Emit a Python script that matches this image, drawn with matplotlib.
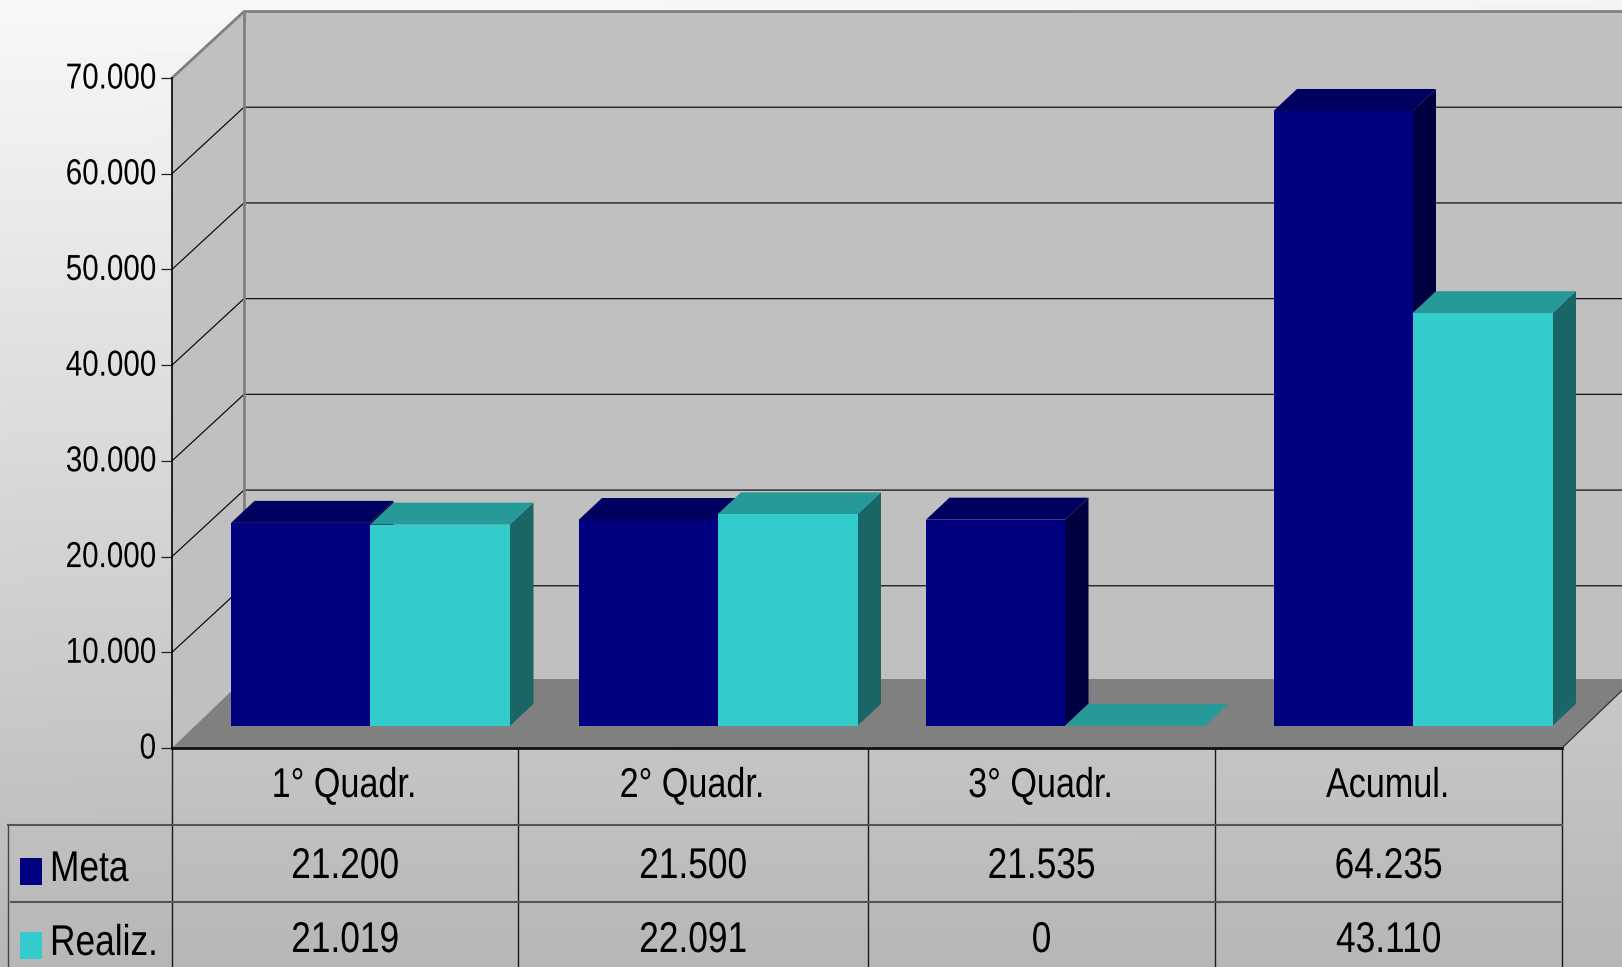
import numpy as np
from matplotlib import pyplot as plt
from matplotlib.backends.backend_agg import RendererAgg
from matplotlib.path import Path
from matplotlib.textpath import text_to_path
from matplotlib.transforms import Affine2D, ScaledTranslation

plt.rcParams['font.family'] = ['Liberation Sans', 'DejaVu Sans']

# no narrow Arial installed, so squeeze the text sideways when it gets drawn
NARROW = 0.82
base_metrics = RendererAgg.get_text_width_height_descent


def narrow_metrics(self, s, prop, ismath):
    w, h, d = base_metrics(self, s, prop, ismath)
    return w * NARROW, h, d


def narrow_text(self, gc, x, y, s, prop, angle, ismath=False, mtext=None):
    verts, codes = text_to_path.get_text_path(prop, s, ismath=ismath)
    size = self.points_to_pixels(prop.get_size_in_points()) / text_to_path.FONT_SCALE
    trans = Affine2D().scale(size * NARROW, size).rotate_deg(angle).translate(x, self.height - y)
    gc.set_linewidth(0.0)
    self.draw_path(gc, Path(verts, codes), trans, rgbFace=gc.get_rgb())


RendererAgg.get_text_width_height_descent = narrow_metrics
RendererAgg.draw_text = narrow_text

categories = ['1° Quadr.', '2° Quadr.', '3° Quadr.', 'Acumul.']
meta = [21200, 21500, 21535, 64235]
realiz = [21019, 22091, 0, 43110]
y_ticks = [0, 10000, 20000, 30000, 40000, 50000, 60000, 70000]
series_names = ['Meta', 'Realiz.']

W, H = 1622, 967
NAVY, NAVY_TOP, NAVY_SIDE = '#000080', '#000060', '#000040'
TEAL, TEAL_TOP, TEAL_SIDE = '#33cccc', '#269999', '#1a6666'

fig = plt.figure(figsize=(W / 100, H / 100), dpi=100)

# background gradient
bg = fig.add_axes([0, 0, 1, 1], zorder=0)
yy, xx = np.mgrid[0:1:200j, 0:1:200j]
bg.imshow(248 - 66 * yy - 4 * xx * (1 - yy), cmap='gray', vmin=0, vmax=255, aspect='auto')
bg.axis('off')

# pixel coordinates, origin top left
pix = Affine2D().scale(1 / W, -1 / H).translate(0, 1) + fig.transFigure


def fmt(v):
    return f'{v:,}'.replace(',', '.')


# main axes, 4 categories wide, 0-70000 tall
x0, x1, y0, y1 = 172, 1562, 748, 78
ax = fig.add_axes([x0 / W, 1 - y0 / H, (x1 - x0) / W, (y0 - y1) / H], zorder=1)
ax.set_xlim(0, 4)
ax.set_ylim(0, 70000)
ax.patch.set_visible(False)
for s in ['top', 'right', 'bottom']:
    ax.spines[s].set_visible(False)
ax.spines['left'].set_linewidth(1.2)
ax.set_xticks([])
ax.set_yticks(y_ticks, [fmt(v) for v in y_ticks])
ax.tick_params(axis='y', length=8, width=0.9, pad=3.5, labelsize=26, color='#222222')
for t in ax.get_yticklabels():
    t.set_transform(t.get_transform() + ScaledTranslation(0, 3 / 100, fig.dpi_scale_trans))

px = 4 / (x1 - x0)
py = 70000 / (y0 - y1)
wall_dx, wall_dy = 72 * px, 66.5 * py
floor_dy = 69 * py
end = 4 + 80 * px

# walls and floor
ax.fill([0, wall_dx, wall_dx, 0], [0, wall_dy, 70000 + wall_dy, 70000], color='#c0c0c0', lw=0, clip_on=False, zorder=0.2)
ax.fill([wall_dx, end, end, wall_dx], [wall_dy, wall_dy, 70000 + wall_dy, 70000 + wall_dy], color='#c0c0c0', lw=0, clip_on=False, zorder=0.2)

for v in y_ticks[1:-1]:
    ax.plot([0, wall_dx, end], [v, v + wall_dy, v + wall_dy], color='#111111', lw=0.9, clip_on=False, zorder=0.3)

ax.plot([0, wall_dx, end], [70000, 70000 + wall_dy, 70000 + wall_dy], color='#808080', lw=2, clip_on=False, zorder=0.3)
ax.plot([wall_dx, wall_dx], [wall_dy, 70000 + wall_dy], color='#808080', lw=2, clip_on=False, zorder=0.3)
ax.fill([0, 4, 4 + wall_dx, wall_dx], [0, 0, floor_dy, floor_dy], color='#808080', lw=0, clip_on=False, zorder=0.4)
ax.plot([4, 4 + wall_dx], [0, floor_dy], color='#333333', lw=0.9, clip_on=False, zorder=0.5)

# bars
offs_x, offs_y = 59 * px, 22.2 * py
meta_w = 139 * px
real_w = 140 * px
dep_x, dep_y = 23.5 * px, 22 * py


def bar3d(left, val, width, front, top, side):
    base = offs_y
    t = base + val
    r = left + width
    ax.fill([left, r, r + dep_x, left + dep_x], [t, t, t + dep_y, t + dep_y], color=top, lw=0, clip_on=False)
    if val > 0:
        ax.fill([r, r + dep_x, r + dep_x, r], [base, base + dep_y, t + dep_y, t], color=side, lw=0, clip_on=False)
        ax.bar(left, val, width, bottom=base, align='edge', color=front, lw=0, clip_on=False)


for i in range(len(categories)):
    bar3d(i + offs_x, meta[i], meta_w, NAVY, NAVY_TOP, NAVY_SIDE)
    bar3d(i + offs_x + meta_w, realiz[i], real_w, TEAL, TEAL_TOP, TEAL_SIDE)

# data table
col_x = [172, 518, 868, 1215, 1562]
for x in col_x:
    ax.plot([x, x], [748, H], transform=pix, color='#1a1a1a', lw=1, clip_on=False)
ax.plot([8, 8], [825, H], transform=pix, color='#444444', lw=1, clip_on=False)
ax.plot([172, 1562], [748, 748], transform=pix, color='#111111', lw=2, clip_on=False)
ax.plot([8, 1562], [825, 825], transform=pix, color='#555555', lw=1.5, clip_on=False)
ax.plot([11, 1560], [902, 902], transform=pix, color='#555555', lw=1.5, clip_on=False)

for i, c in enumerate(categories):
    cx = (col_x[i] + col_x[i + 1]) / 2
    ax.text(cx - 1, 786, c, transform=pix, ha='center', va='center', fontsize=30)
    ax.text(cx, 867, fmt(meta[i]), transform=pix, ha='center', va='center', fontsize=31)
    ax.text(cx, 941, fmt(realiz[i]), transform=pix, ha='center', va='center', fontsize=31)

key_y = [858, 932]
for name, k, col in zip(series_names, key_y, [NAVY, TEAL]):
    ax.fill([20, 42, 42, 20], [k, k, k + 27, k + 27], transform=pix, color=col, lw=0, clip_on=False)
    ax.text(50, k + 12, name, transform=pix, ha='left', va='center', fontsize=31)

fig.savefig('out.png', dpi=100)
